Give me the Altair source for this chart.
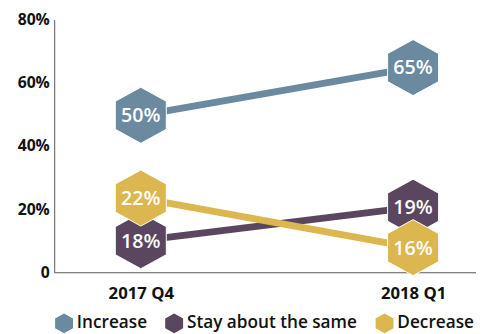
import altair as alt
import pandas as pd

quarters = ["2017 Q4", "2018 Q1"]
series = ["Increase", "Stay about the same", "Decrease"]
colors = ["#6b8aa0", "#5b4660", "#dcb74f"]
# plotted positions (as drawn in the reference) and displayed labels
increase_pos = [49.7, 64.8]
stay_pos = [10.0, 20.6]
decrease_pos = [23.5, 7.8]
increase_lbl = ["50%", "65%"]
stay_lbl = ["18%", "19%"]
decrease_lbl = ["22%", "16%"]

rows = []
for s, pos, lbl in [(series[0], increase_pos, increase_lbl),
                    (series[1], stay_pos, stay_lbl),
                    (series[2], decrease_pos, decrease_lbl)]:
    for i, q in enumerate(quarters):
        rows.append({"series": s, "xi": i, "quarter": q, "value": pos[i], "label": lbl[i]})
df = pd.DataFrame(rows)

hexpath = "M0,-1L0.91,-0.5L0.91,0.5L0,1L-0.91,0.5L-0.91,-0.5Z"
FONT = "Open Sans"

x = alt.X("xi:Q", scale=alt.Scale(domain=[-0.318, 1.231], nice=False, zero=False),
          axis=alt.Axis(values=[0, 1], title=None, grid=False, ticks=False,
                        labelExpr="datum.value == 0 ? '2017 Q4' : '2018 Q1'",
                        labelFont=FONT, labelFontWeight="bold", labelFontSize=17,
                        labelColor="#111", labelPadding=14, domainColor="#555",
                        labelBaseline="top"))
y = alt.Y("value:Q", scale=alt.Scale(domain=[0, 80], nice=False),
          axis=alt.Axis(values=[0, 20, 40, 60, 80], title=None, grid=False, ticks=False,
                        labelExpr="datum.value == 0 ? '0' : datum.value + '%'",
                        labelFont=FONT, labelFontWeight="bold", labelFontSize=16,
                        labelColor="#111", labelPadding=5, domainColor="#555"))
color = alt.Color("series:N", scale=alt.Scale(domain=series, range=colors),
                  sort=series,
                  legend=alt.Legend(title=None, orient="none", legendX=0, legendY=299,
                                    direction="horizontal", symbolType=hexpath,
                                    symbolSize=400, symbolStrokeWidth=0,
                                    labelFont=FONT, labelFontSize=17.5, labelFontWeight=600,
                                    labelColor="#111", labelLimit=400,
                                    labelOffset=3, columnPadding=17))

lines = alt.Chart(df).mark_line(strokeWidth=7, strokeCap="butt").encode(
    x=x, y=y, color=color, detail="series:N")
hexes = alt.Chart(df).mark_point(shape=hexpath, size=3249, filled=True, opacity=1,
                                 stroke="white", strokeWidth=1).encode(
    x=x, y=y, color=color)
texts = alt.Chart(df).mark_text(color="white", font=FONT, fontWeight=600, fontSize=20,
                                dy=1).encode(x=x, y=y, text="label:N")

chart = alt.layer(lines, hexes, texts).properties(
    width=429, height=257,
    autosize=alt.AutoSizeParams(type="none"),
    padding={"left": 47, "top": 9, "right": 0, "bottom": 60},
).configure_view(stroke=None)

chart.save("out.html", embed_options={"renderer": "svg", "actions": False})
